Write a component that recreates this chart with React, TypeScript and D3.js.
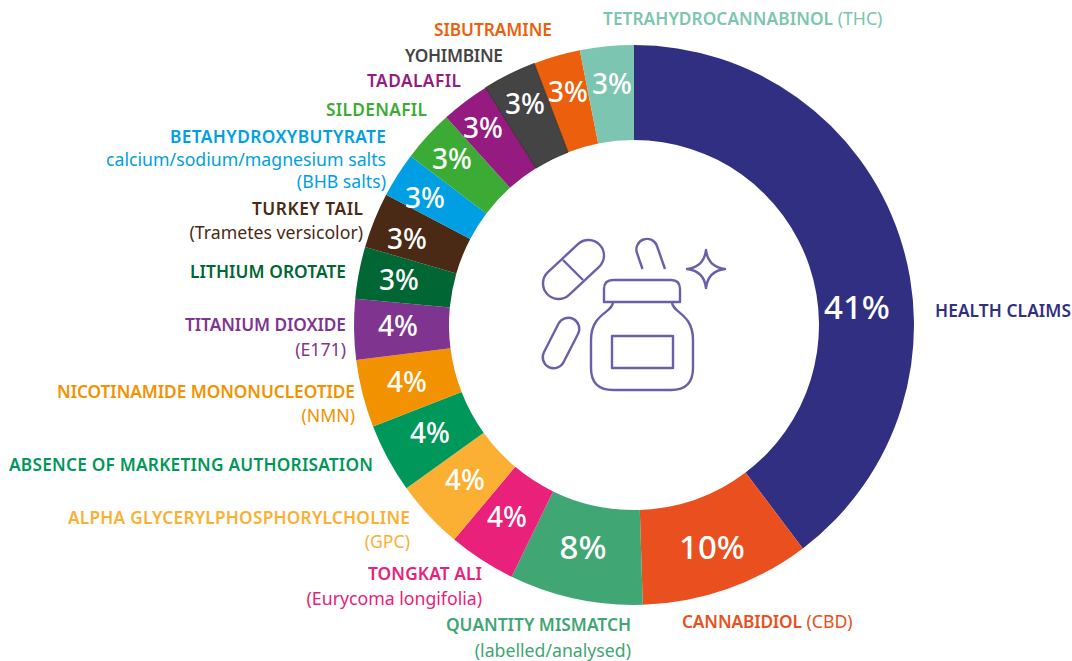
import React from 'react';
import * as d3 from 'd3';

// clockwise from 12 o'clock
const names = ['Health claims', 'CBD', 'Quantity mismatch', 'Tongkat ali', 'GPC', 'Absence of MA', 'NMN', 'Titanium dioxide',
  'Lithium orotate', 'Turkey tail', 'BHB salts', 'Sildenafil', 'Tadalafil', 'Yohimbine', 'Sibutramine', 'THC'];
const values = [39.7, 9.8, 7.7, 3.9, 4, 4, 3.9, 3.5, 3, 3.2, 2.6, 3, 2.8, 3.1, 2.7, 3.1];
const shownPct = ['41%', '10%', '8%', '4%', '4%', '4%', '4%', '4%', '3%', '3%', '3%', '3%', '3%', '3%', '3%', '3%'];
const colors = ['#312f82', '#ea4f20', '#40a673', '#e9217a', '#fbb034', '#00975a', '#f39200', '#7f3590',
  '#006633', '#4a2a14', '#009fe3', '#3cab35', '#951b81', '#444444', '#ec5f0c', '#7cc5b0'];

// hand placed, the percent labels do not sit on the slice centres
const pctPos = [[857, 306], [712, 546], [583, 546], [507, 516], [465, 479], [430, 432], [407, 381], [398, 325],
  [399, 279], [407, 238], [425, 197], [452, 158], [483, 127], [525, 103], [568, 91], [612, 83]];
const pctSize = [33, 33, 33, 28, 28, 28, 28, 28, 28, 28, 28, 28, 28, 28, 28, 28];

// len = width of the bold part in the reference, the original font is not installed
const labels: { i: number; x: number; y: number; anchor: string; len?: number; lines: [string, boolean][] }[] = [
  { i: 0, x: 1071, y: 317, anchor: 'end', len: 136, lines: [['HEALTH CLAIMS', true]] },
  { i: 1, x: 682, y: 628, anchor: 'start', len: 120, lines: [['CANNABIDIOL', true], [' (CBD)', false]] },
  { i: 2, x: 631, y: 631, anchor: 'end', len: 185, lines: [['QUANTITY MISMATCH', true]] },
  { i: 2, x: 631, y: 657, anchor: 'end', lines: [['(labelled/analysed)', false]] },
  { i: 3, x: 482, y: 580, anchor: 'end', len: 114, lines: [['TONGKAT ALI', true]] },
  { i: 3, x: 482, y: 605, anchor: 'end', lines: [['(Eurycoma longifolia)', false]] },
  { i: 4, x: 410, y: 524, anchor: 'end', len: 342, lines: [['ALPHA GLYCERYLPHOSPHORYLCHOLINE', true]] },
  { i: 4, x: 410, y: 548, anchor: 'end', lines: [['(GPC)', false]] },
  { i: 5, x: 373, y: 471, anchor: 'end', len: 364, lines: [['ABSENCE OF MARKETING AUTHORISATION', true]] },
  { i: 6, x: 355, y: 398, anchor: 'end', len: 298, lines: [['NICOTINAMIDE MONONUCLEOTIDE', true]] },
  { i: 6, x: 355, y: 422, anchor: 'end', lines: [['(NMN)', false]] },
  { i: 7, x: 346, y: 331, anchor: 'end', len: 161, lines: [['TITANIUM DIOXIDE', true]] },
  { i: 7, x: 346, y: 356, anchor: 'end', lines: [['(E171)', false]] },
  { i: 8, x: 346, y: 278, anchor: 'end', len: 156, lines: [['LITHIUM OROTATE', true]] },
  { i: 9, x: 363, y: 215, anchor: 'end', len: 111, lines: [['TURKEY TAIL', true]] },
  { i: 9, x: 363, y: 239, anchor: 'end', lines: [['(Trametes versicolor)', false]] },
  { i: 10, x: 386, y: 143, anchor: 'end', len: 216, lines: [['BETAHYDROXYBUTYRATE', true]] },
  { i: 10, x: 386, y: 166, anchor: 'end', lines: [['calcium/sodium/magnesium salts', false]] },
  { i: 10, x: 386, y: 188, anchor: 'end', lines: [['(BHB salts)', false]] },
  { i: 11, x: 427, y: 116, anchor: 'end', len: 101, lines: [['SILDENAFIL', true]] },
  { i: 12, x: 461, y: 87, anchor: 'end', len: 94, lines: [['TADALAFIL', true]] },
  { i: 13, x: 503, y: 62, anchor: 'end', len: 98, lines: [['YOHIMBINE', true]] },
  { i: 14, x: 552, y: 36, anchor: 'end', len: 118, lines: [['SIBUTRAMINE', true]] },
  { i: 15, x: 603, y: 25, anchor: 'start', len: 230, lines: [['TETRAHYDROCANNABINOL', true], [' (THC)', false]] },
];

const cx = 634;
const cy = 325;
const outerR = 280;
const innerR = 185;
const iconColor = '#6a60a9';

const Icon = () => (
  <g fill="none" stroke={iconColor} strokeWidth={2.4} strokeLinejoin="round">
    <rect x={-36} y={-15.5} width={72} height={31} rx={15.5} transform="translate(573.5,269.5) rotate(-43)" />
    <path d="M563,260L583,280" />
    <rect x={-27} y={-11} width={54} height={22} rx={11} transform="translate(561,343) rotate(-63)" />
    <path d="M642.5,269L637,253A10.5,10.5 0 0 1 657,246L665,269" />
    <path d="M706,250Q708,267 725,269Q708,271 706,288Q704,271 687,269Q704,267 706,250Z" />
    <path d="M604,302V289Q604,280 613,280H671Q680,280 680,289V302Z" />
    <path d="M613,302C613,313 591,313 591,340V368Q591,390 613,390H671Q693,390 693,368V340C693,313 672,313 672,302" />
    <rect x={612} y={336} width={61} height={32} />
  </g>
);

export default function App() {
  const pie = d3.pie<number>().value(d => d).sort(null);
  const arc = d3.arc<d3.PieArcDatum<number>>().innerRadius(innerR).outerRadius(outerR);
  const slices = pie(values);

  return (
    <svg width={1072} height={661} style={{ position: 'absolute', left: 0, top: 0 }} fontFamily="'Noto Sans', sans-serif">
      <g transform={`translate(${cx},${cy})`}>
        {slices.map((s, i) => (
          <path key={names[i]} d={arc(s) as string} fill={colors[i]} />
        ))}
        {/* the thin dark edge along the yohimbine slice */}
        <path d={arc(slices[13]) as string} fill="none" stroke="#111" strokeWidth={0.6} />
      </g>
      <Icon />
      {shownPct.map((t, i) => (
        <text key={i} x={pctPos[i][0]} y={pctPos[i][1]} fill="#fff" fontSize={pctSize[i]} fontWeight={500}
          textAnchor="middle" dominantBaseline="central">{t}</text>
      ))}
      {labels.map((l, k) => (
        <text key={k} x={l.x} y={l.y} fill={colors[l.i]} fontSize={17.3} textAnchor={l.anchor} xmlSpace="preserve">
          {l.lines.map(([t, strong], j) => (
            <tspan key={j} fontWeight={strong ? 600 : 400} fontSize={strong ? 17.3 : 17.7}
              textLength={strong ? l.len : undefined}>{t}</tspan>
          ))}
        </text>
      ))}
    </svg>
  );
}
